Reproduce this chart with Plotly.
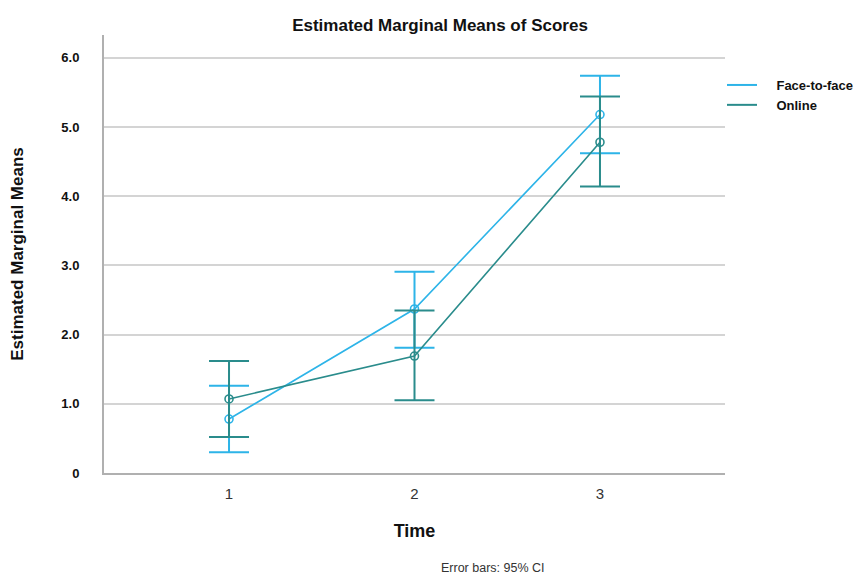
import plotly.graph_objects as go

time = [1, 2, 3]
series_names = ["Face-to-face", "Online"]
face_mean = [0.78, 2.37, 5.18]
face_upper = [1.26, 2.91, 5.74]
face_lower = [0.30, 1.81, 4.62]
online_mean = [1.07, 1.69, 4.78]
online_upper = [1.62, 2.35, 5.44]
online_lower = [0.52, 1.05, 4.14]
y_ticks = [0, 1, 2, 3, 4, 5, 6]
y_tick_labels = ["0", "1.0", "2.0", "3.0", "4.0", "5.0", "6.0"]

colors = ["#2db4e8", "#2a8c8c"]
pad = "\u00a0" * 4

fig = go.Figure()
for name, mean, up, lo, col in [
    (series_names[0], face_mean, face_upper, face_lower, colors[0]),
    (series_names[1], online_mean, online_upper, online_lower, colors[1]),
]:
    fig.add_trace(go.Scatter(
        x=time, y=mean, mode="lines+markers", showlegend=False,
        line=dict(color=col, width=1.6),
        marker=dict(symbol="circle-open", size=8, color=col, line=dict(width=1.6)),
        error_y=dict(type="data", symmetric=False,
                     array=[u - m for u, m in zip(up, mean)],
                     arrayminus=[m - l for m, l in zip(mean, lo)],
                     color=col, thickness=2, width=20),
    ))
    fig.add_trace(go.Scatter(x=[None], y=[None], mode="lines", name=pad + name,
                             line=dict(color=col, width=2)))

fig.update_layout(
    width=859, height=568,
    margin=dict(l=96, r=142, t=27, b=103, autoexpand=False),
    paper_bgcolor="white", plot_bgcolor="white",
    font=dict(family="Liberation Sans, Arial, sans-serif", color="#222"),
    title=dict(text="<b>Estimated Marginal Means of Scores</b>", x=(440 - 8) / 859, xanchor="center",
               y=1 - (25 - 8) / 568, yanchor="middle", font=dict(size=17, color="#111")),
    legend=dict(x=(722 - 104) / 621, y=(473 - 70) / 438, xanchor="left", yanchor="top",
                font=dict(size=13, color="#111", weight="bold"), tracegroupgap=0,
                bgcolor="rgba(0,0,0,0)", itemwidth=30),
    annotations=[dict(text="Error bars: 95% CI", x=(493 - 104) / 621, y=(473 - 568) / 438,
                      xref="paper", yref="paper", xanchor="center", yanchor="middle",
                      showarrow=False, font=dict(size=12.5, color="#333",
                      family="Liberation Sans Narrow, Liberation Sans, Arial"))],
)

fig.update_xaxes(range=[0.326, 3.674], tickvals=time, ticktext=[str(t) for t in time],
                 showgrid=False, zeroline=False, showline=True, linecolor="#b0b0b0",
                 linewidth=2, ticks="outside", ticklen=6, tickcolor="rgba(0,0,0,0)",
                 tickfont=dict(size=15, color="#333"), automargin=False,
                 title=dict(text="<b>Time</b>", font=dict(size=18, color="#111"), standoff=23))
fig.update_yaxes(range=[0, 6.33], tickvals=y_ticks, ticktext=y_tick_labels,
                 showgrid=True, gridcolor="#d4d4d4", gridwidth=2, zeroline=False,
                 showline=True, linecolor="#b0b0b0", linewidth=2, ticks="outside",
                 ticklen=20, tickcolor="rgba(0,0,0,0)", automargin=False,
                 tickfont=dict(size=13, color="#111", weight="bold"),
                 title=dict(text="<b>Estimated Marginal Means</b>", font=dict(size=17, color="#111"),
                            standoff=33))

fig.write_html("out.html")
